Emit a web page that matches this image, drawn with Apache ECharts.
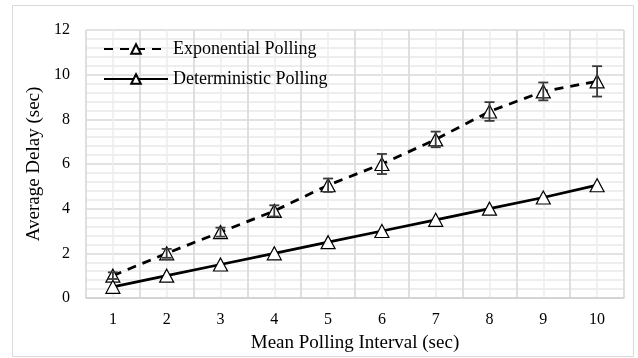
<!DOCTYPE html>
<html>
<head>
<meta charset="utf-8">
<script src="https://cdn.jsdelivr.net/npm/echarts@6/dist/echarts.min.js"></script>
<style>
  html, body { margin: 0; padding: 0; background: #fff; }
  #chart { width: 638px; height: 358px; }
</style>
</head>
<body>
<div id="chart"></div>
<script>
// Polling intervals (sec) on the x axis
const intervals = ['1', '2', '3', '4', '5', '6', '7', '8', '9', '10'];
// Average delay (sec) for each polling scheme
const exponentialDelay = [1.0, 2.0, 2.95, 3.9, 5.05, 6.0, 7.1, 8.35, 9.25, 9.7];
const exponentialError = [0.15, 0.2, 0.2, 0.25, 0.3, 0.45, 0.35, 0.42, 0.4, 0.68];
const deterministicDelay = [0.5, 1.0, 1.5, 2.0, 2.5, 3.0, 3.5, 4.0, 4.5, 5.05];
// Y axis range
const yMin = 0, yMax = 12, yStep = 2;

const serif = '"Liberation Serif", "Times New Roman", serif';
const chart = echarts.init(document.getElementById('chart'), null, { renderer: 'canvas' });

const errorData = exponentialDelay.map((v, i) => [i, v - exponentialError[i], v + exponentialError[i]]);

const triangle = {
  symbol: 'triangle',
  symbolSize: [14, 13],
  itemStyle: { color: '#ffffff', borderColor: '#000000', borderWidth: 1.2 }
};

chart.setOption({
  animation: false,
  backgroundColor: '#ffffff',
  graphic: [{
    type: 'rect',
    shape: { x: 12.5, y: 5.5, width: 621, height: 351 },
    style: { fill: 'none', stroke: '#d9d9d9', lineWidth: 1 },
    z: -10
  }],
  grid: { left: 86, right: 14, top: 30, bottom: 59 },
  legend: {
    left: 98,
    top: 35,
    orient: 'vertical',
    itemWidth: 64,
    itemHeight: 12,
    itemGap: 12,
    textStyle: { fontFamily: serif, fontSize: 18, color: '#000' },
    data: ['Exponential Polling', 'Deterministic Polling']
  },
  xAxis: [{
    type: 'category',
    data: intervals,
    boundaryGap: true,
    z: 2,
    name: 'Mean Polling Interval (sec)',
    nameLocation: 'middle',
    nameGap: 36,
    nameTextStyle: { fontFamily: serif, fontSize: 19, fontWeight: 'normal', color: '#000' },
    axisLine: { lineStyle: { color: '#d0d0d0', width: 1.5 } },
    axisTick: { show: false },
    axisLabel: { fontFamily: serif, fontSize: 16, color: '#000', margin: 14 },
    splitLine: { show: true, lineStyle: { color: '#d9d9d9', width: 1.5 } }
  }, {
    // half-category grid lines (the ones at the category centres show through)
    type: 'value',
    min: 0,
    max: 20,
    interval: 1,
    position: 'top',
    show: true,
    z: 0,
    axisLine: { show: false },
    axisTick: { show: false },
    axisLabel: { show: false },
    splitLine: { show: true, lineStyle: { color: '#ececec', width: 1.5 } }
  }],
  yAxis: {
    type: 'value',
    min: yMin,
    max: yMax,
    interval: yStep,
    name: 'Average Delay (sec)',
    nameLocation: 'middle',
    nameGap: 41,
    nameTextStyle: { fontFamily: serif, fontSize: 19, fontWeight: 'normal', color: '#000' },
    axisLine: { show: false },
    axisTick: { show: false },
    axisLabel: { fontFamily: serif, fontSize: 16, color: '#000', margin: 16 },
    splitLine: { show: true, lineStyle: { color: '#d9d9d9', width: 1.5 } },
    minorTick: { show: false, splitNumber: 5 },
    minorSplitLine: { show: true, lineStyle: { color: '#e9e9e9', width: 1.5 } }
  },
  series: [{
    name: 'Exponential Polling',
    type: 'line',
    data: exponentialDelay,
    ...triangle,
    z: 3,
    lineStyle: { color: '#000', width: 2.8, type: [9, 7] },
    color: '#000'
  }, {
    name: 'Deterministic Polling',
    type: 'line',
    data: deterministicDelay,
    ...triangle,
    z: 3,
    lineStyle: { color: '#000', width: 2.8, type: 'solid' },
    color: '#000'
  }, {
    name: 'error',
    type: 'custom',
    data: errorData,
    z: 4,
    renderItem: function (params, api) {
      const i = api.value(0);
      const lo = api.coord([i, api.value(1)]);
      const hi = api.coord([i, api.value(2)]);
      const cap = 5;
      const style = { stroke: '#3a3a3a', lineWidth: 1.8, fill: null };
      return {
        type: 'group',
        children: [
          { type: 'line', shape: { x1: lo[0], y1: lo[1], x2: hi[0], y2: hi[1] }, style },
          { type: 'line', shape: { x1: lo[0] - cap, y1: lo[1], x2: lo[0] + cap, y2: lo[1] }, style },
          { type: 'line', shape: { x1: hi[0] - cap, y1: hi[1], x2: hi[0] + cap, y2: hi[1] }, style }
        ]
      };
    },
    encode: { x: 0, y: [1, 2] }
  }]
});
</script>
</body>
</html>
